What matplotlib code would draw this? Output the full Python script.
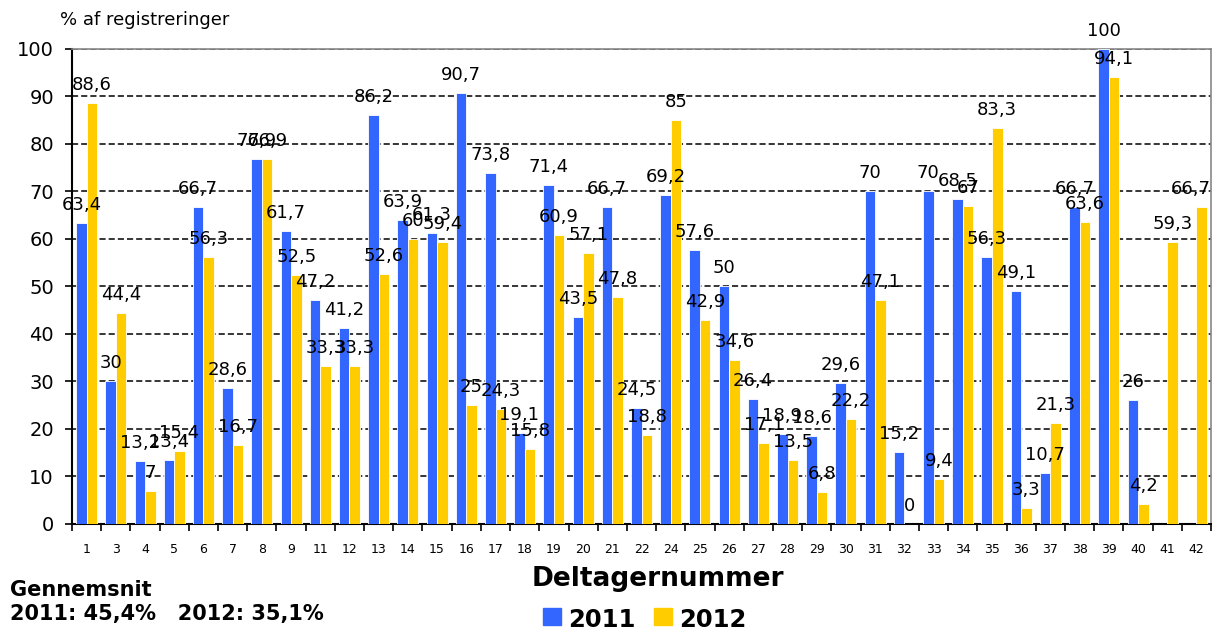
import matplotlib.pyplot as plt
import numpy as np

participants = ["1", "3", "4", "5", "6", "7", "8", "9", "11", "12", "13", "14", "15",
                "16", "17", "18", "19", "20", "21", "22", "24", "25", "26", "27", "28",
                "29", "30", "31", "32", "33", "34", "35", "36", "37", "38", "39", "40",
                "41", "42"]
values_2011 = [63.4, 30, 13.2, 13.4, 66.7, 28.6, 76.9, 61.7, 47.2, 41.2, 86.2, 63.9, 61.3,
               90.7, 73.8, 19.1, 71.4, 43.5, 66.7, 24.5, 69.2, 57.6, 50, 26.4, 18.9,
               18.6, 29.6, 70, 15.2, 70, 68.5, 56.3, 49.1, 10.7, 66.7, 100, 26,
               None, None]
values_2012 = [88.6, 44.4, 7, 15.4, 56.3, 16.7, 76.9, 52.5, 33.3, 33.3, 52.6, 60, 59.4,
               25, 24.3, 15.8, 60.9, 57.1, 47.8, 18.8, 85, 42.9, 34.6, 17.1, 13.5,
               6.8, 22.2, 47.1, 0, 9.4, 67, 83.3, 3.3, 21.3, 63.6, 94.1, 4.2,
               59.3, 66.7]
series_names = ["2011", "2012"]
avg_text = "2011: 45,4%   2012: 35,1%"

BLUE = "#3366FF"
YELLOW = "#FFCC00"
FONT = "DejaVu Sans"


def fmt(v):
    s = f"{v:.1f}".replace(".", ",")
    return s[:-2] if s.endswith(",0") else s


fig = plt.figure(figsize=(12.25, 6.32), dpi=100)
ax = fig.add_axes([0.0588, 0.1709, 0.9298, 0.7516])

x = np.arange(len(participants))
w = 0.36
last = len(participants) - 1
for vals, off, col in [(values_2011, -w / 2, BLUE), (values_2012, w / 2, YELLOW)]:
    idx = [i for i, v in enumerate(vals) if v is not None]
    xs = [x[i] + off for i in idx]
    vs = [vals[i] for i in idx]
    ax.bar(xs, vs, width=w, color=col, edgecolor="white", linewidth=0.6, zorder=3)
    for i, xi, v in zip(idx, xs, vs):
        # keep the rightmost label inside the figure, as the original does
        dx = -8 if i == last else 0
        ax.annotate(fmt(v), (xi, v), xytext=(dx, 6.5), textcoords="offset points",
                    ha="center", va="bottom", fontsize=13, family=FONT,
                    color="black", zorder=5, annotation_clip=False)

ax.set_xlim(-0.5, len(participants) - 0.5)
ax.set_ylim(0, 100)
ax.set_yticks(range(0, 101, 10))
ax.tick_params(axis="y", labelsize=14, length=5, width=1.2, direction="out", pad=8)
for lab in ax.get_yticklabels():
    lab.set_family(FONT)

ax.set_xticks(x)
ax.set_xticklabels(participants, fontsize=9, family=FONT)
ax.set_xticks(np.arange(-0.5, len(participants), 1), minor=True)
ax.tick_params(axis="x", which="major", length=0, pad=14)
ax.tick_params(axis="x", which="minor", length=5, width=1.2, direction="out")

ax.grid(axis="y", color="black", linestyle=(0, (4, 2)), linewidth=1.1, zorder=1)
ax.set_axisbelow(True)
for side in ["left", "bottom"]:
    ax.spines[side].set_linewidth(1.5)
    ax.spines[side].set_color("black")
for side in ["top", "right"]:
    ax.spines[side].set_color("#888888")
    ax.spines[side].set_linewidth(1.2)

fig.text(60 / 1225, 1 - 20 / 632, "% af registreringer", fontsize=13,
         family=FONT, va="center", ha="left")
fig.text(658 / 1225, 1 - 579 / 632, "Deltagernummer", fontsize=19, fontweight="bold",
         family=FONT, ha="center", va="center")

fig.text(10 / 1225, 1 - 590 / 632, "Gennemsnit", fontsize=15, fontweight="bold",
         family=FONT, va="center")
fig.text(10 / 1225, 1 - 614 / 632, avg_text, fontsize=15, fontweight="bold",
         family=FONT, va="center")

# legend drawn by hand to match the spacing
for name, col, x0 in [(series_names[0], BLUE, 543), (series_names[1], YELLOW, 654)]:
    fig.patches.append(plt.Rectangle((x0 / 1225, 1 - 625 / 632), 18 / 1225, 17 / 632,
                                     transform=fig.transFigure, color=col))
    fig.text((x0 + 25) / 1225, 1 - 620 / 632, name, fontsize=17.5, fontweight="bold",
             family=FONT, va="center")

fig.savefig("out.png", dpi=100)
